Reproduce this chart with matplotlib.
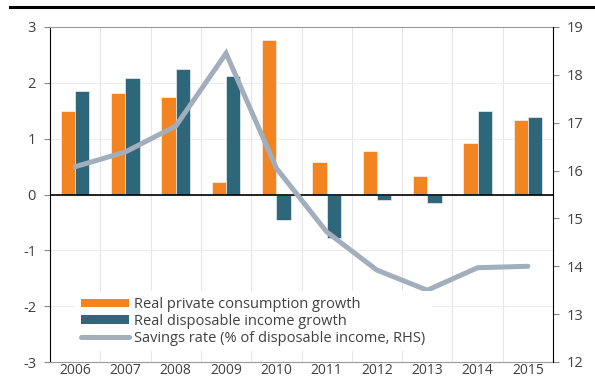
import numpy as np
import matplotlib.pyplot as plt
from matplotlib.lines import Line2D
from matplotlib.patches import Patch

plt.rcParams['font.family'] = ['Open Sans', 'DejaVu Sans']
plt.rcParams['axes.unicode_minus'] = False

# Data
years = ['2006', '2007', '2008', '2009', '2010', '2011', '2012', '2013', '2014', '2015']
consumption = [1.50, 1.81, 1.75, 0.23, 2.76, 0.58, 0.78, 0.34, 0.93, 1.33]
income = [1.85, 2.08, 2.25, 2.12, -0.45, -0.78, -0.09, -0.16, 1.50, 1.38]
savings = [16.08, 16.39, 16.93, 18.45, 16.05, 14.72, 13.92, 13.50, 13.97, 14.00]

orange = '#F28522'
teal = '#2E667A'
grey_line = '#A2AEBB'
text_col = '#404040'

fig = plt.figure(figsize=(5.95, 3.78), dpi=100)
ax = fig.add_axes([50 / 595, 16 / 378, 503 / 595, 335 / 378])

x = np.arange(len(years))
w = 0.285
ax.bar(x - w / 2, consumption, w, color=orange, edgecolor='white', linewidth=0.4, zorder=3)
ax.bar(x + w / 2, income, w, color=teal, edgecolor='white', linewidth=0.4, zorder=3)

ax.set_xlim(-0.5, len(years) - 0.5)
ax.set_ylim(-3, 3)
ax.set_yticks(range(-3, 4))
ax.set_xticks(x)
ax.set_xticklabels(years)
ax.set_xticks(np.arange(-0.5, len(years)), minor=True)
ax.grid(True, which='minor', axis='x', color='#E6E6E6', lw=0.8, zorder=0)
ax.grid(True, which='major', axis='y', color='#EDEDED', lw=0.8, zorder=0)
ax.axhline(0, color='black', lw=1.2, zorder=4)

ax.tick_params(axis='x', which='both', length=0, pad=1, labelsize=10, labelcolor=text_col)
ax.tick_params(axis='y', length=4, color='#888888', pad=6, labelsize=10.5, labelcolor=text_col)
ax.spines['left'].set_color('black')
ax.spines['top'].set_color('#999999')
ax.spines['bottom'].set_color('#999999')
ax.spines['right'].set_visible(False)

ax2 = ax.twinx()
ax2.plot(x, savings, color=grey_line, lw=3.6, solid_capstyle='round', solid_joinstyle='miter', zorder=5)
ax2.set_ylim(12, 19)
ax2.set_yticks(range(12, 20))
ax2.tick_params(axis='y', length=4, color='#888888', pad=6, labelsize=10.5, labelcolor=text_col)
ax2.spines['right'].set_color('black')
ax2.spines['top'].set_visible(False)
ax2.spines['bottom'].set_visible(False)
ax2.spines['left'].set_visible(False)

handles = [Patch(facecolor=orange, edgecolor='none'),
           Patch(facecolor=teal, edgecolor='none'),
           Line2D([], [], color=grey_line, lw=3.6, solid_capstyle='round')]
labels = ['Real private consumption growth',
          'Real disposable income growth',
          'Savings rate (% of disposable income, RHS)']
leg = ax2.legend(handles, labels, loc='upper left', bbox_to_anchor=(0.036, 0.233),
                 frameon=True, fancybox=False, framealpha=1, facecolor='white',
                 edgecolor='none', fontsize=10.5, handlelength=3.3, handleheight=0.55,
                 handletextpad=0.35, labelspacing=0.12, borderpad=0.4,
                 labelcolor=text_col)

# thick rule along the top of the figure
fig.add_artist(Line2D([10 / 595, 1], [1 - 6.5 / 378, 1 - 6.5 / 378], color='black', lw=2.2))

fig.savefig('out.png', dpi=100)
